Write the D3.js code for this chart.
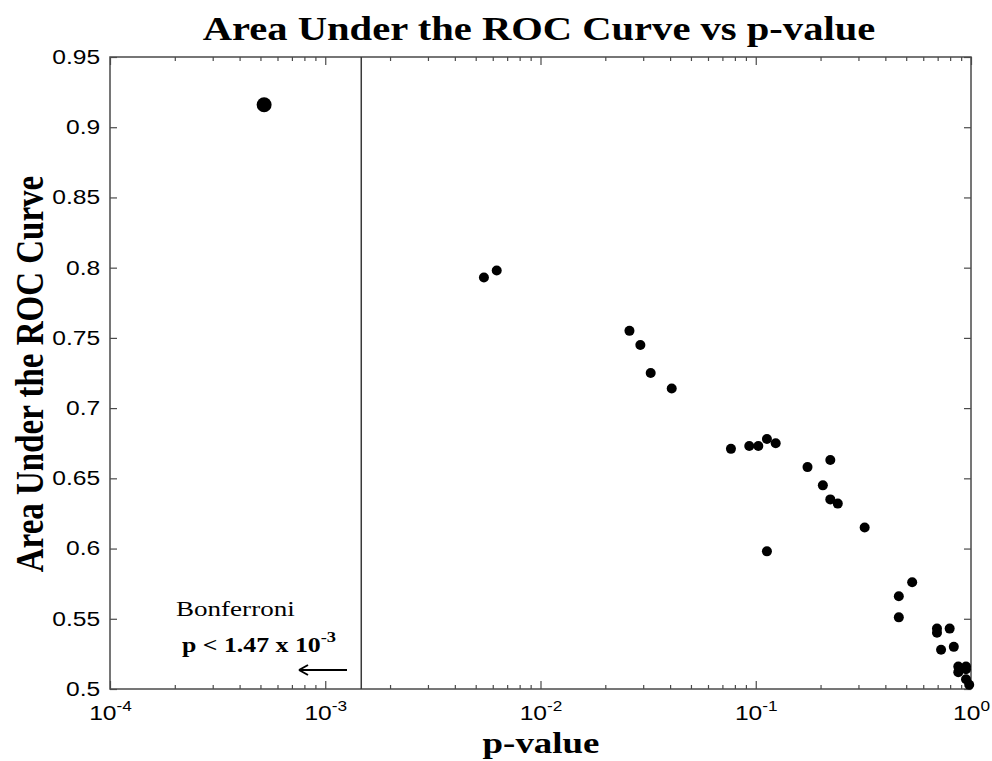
<!DOCTYPE html>
<html><head><meta charset="utf-8">
<script src="https://cdn.jsdelivr.net/npm/d3@7"></script>
<style>body{margin:0;background:#fff}</style>
</head><body><svg id="c" width="992" height="761"></svg>
<script>
// ---- data ----
const pValues = [0.00546,0.00626,0.0259,0.0291,0.0325,0.0407,0.0767,0.0933,0.1028,0.1127,0.1238,0.174,0.222,0.205,0.222,0.2405,0.3206,0.1127,0.462,0.462,0.533,0.695,0.695,0.796,0.726,0.832,0.873,0.948,0.873,0.948,0.948,0.981];
const aucValues = [0.793,0.798,0.755,0.745,0.725,0.714,0.671,0.673,0.673,0.678,0.675,0.658,0.663,0.645,0.635,0.632,0.615,0.598,0.566,0.551,0.576,0.543,0.540,0.543,0.528,0.530,0.516,0.516,0.512,0.514,0.507,0.503];
const sigP = [5.2e-4];
const sigAUC = [0.916];
const yTicks = [0.5,0.55,0.6,0.65,0.7,0.75,0.8,0.85,0.9,0.95];
const xTicks = [1e-4,1e-3,1e-2,1e-1,1];
const xTickExponents = ["-4","-3","-2","-1","0"];
const bonferroni = 1.47e-3;
const titleText = "Area Under the ROC Curve vs p-value";
const xLabelText = "p-value";
const yLabelText = "Area Under the ROC Curve";
const noteLine1 = "Bonferroni";
const noteLine2 = "p < 1.47 x 10";
const noteExp = "-3";

// ---- layout ----
const SX = 1.23;
const L = 110, R = 971, T = 57, B = 689;
const svg = d3.select("#c");
const x = d3.scaleLog().domain([1e-4, 1]).range([L, R]);
const y = d3.scaleLinear().domain([0.5, 0.95]).range([B, T]);
const axisColor = "#4a4a4a";

const minor = [];
for (let e = -4; e < 0; e++) for (let m = 2; m <= 9; m++) minor.push(m * Math.pow(10, e));

function styleAxis(g) {
  g.select(".domain").remove();
  g.selectAll(".tick line").attr("stroke", axisColor).attr("stroke-width", 1.2);
}

const gb = svg.append("g").attr("transform", `translate(0,${B})`)
  .call(d3.axisBottom(x).tickValues(xTicks).tickSize(-8).tickPadding(17).tickFormat(""))
  .call(styleAxis);
gb.selectAll(".tick text").each(function(d, i) {
  const t = d3.select(this);
  t.attr("font-family", "Liberation Sans, Arial, sans-serif").attr("font-size", 20).attr("fill", "#000")
   .attr("transform", `scale(${SX},1)`);
  t.text("10");
  t.append("tspan").attr("dy", -9).attr("font-size", 14).text(xTickExponents[i]);
});
svg.append("g").attr("transform", `translate(0,${B})`)
  .call(d3.axisBottom(x).tickValues(minor).tickSize(-4).tickFormat(""))
  .call(styleAxis);
svg.append("g").attr("transform", `translate(0,${T})`)
  .call(d3.axisTop(x).tickValues(xTicks).tickSize(-8).tickFormat(""))
  .call(styleAxis);
svg.append("g").attr("transform", `translate(0,${T})`)
  .call(d3.axisTop(x).tickValues(minor).tickSize(-4).tickFormat(""))
  .call(styleAxis);
const gl = svg.append("g").attr("transform", `translate(${L},0)`)
  .call(d3.axisLeft(y).tickValues(yTicks).tickSize(-7).tickPadding(8).tickFormat(d => String(+d.toFixed(2))))
  .call(styleAxis);
gl.selectAll(".tick text")
  .attr("font-family", "Liberation Sans, Arial, sans-serif").attr("font-size", 20).attr("fill", "#000")
  .attr("transform", `scale(${SX},1)`);
svg.append("g").attr("transform", `translate(${R},0)`)
  .call(d3.axisRight(y).tickValues(yTicks).tickSize(-7).tickFormat(""))
  .call(styleAxis);

svg.append("rect").attr("x", L).attr("y", T).attr("width", R - L).attr("height", B - T)
  .attr("fill", "none").attr("stroke", axisColor).attr("stroke-width", 1.5);

svg.append("line").attr("x1", x(bonferroni)).attr("x2", x(bonferroni)).attr("y1", T).attr("y2", B)
  .attr("stroke", "#3a3a3a").attr("stroke-width", 1.5);

svg.append("g").selectAll("circle").data(pValues.map((p, i) => [p, aucValues[i]])).join("circle")
  .attr("cx", d => x(d[0])).attr("cy", d => y(d[1])).attr("r", 5).attr("fill", "#000");
svg.append("g").selectAll("circle").data(sigP.map((p, i) => [p, sigAUC[i]])).join("circle")
  .attr("cx", d => x(d[0])).attr("cy", d => y(d[1])).attr("r", 7.5).attr("fill", "#000");

function stext(px, py, txt, size, weight, anchor) {
  return svg.append("text").attr("transform", `translate(${px},${py}) scale(${SX},1)`)
    .attr("font-family", "Liberation Serif, Times New Roman, serif").attr("font-size", size)
    .attr("font-weight", weight).attr("text-anchor", anchor).attr("fill", "#000").text(txt);
}
stext(539, 40, titleText, 33, "bold", "middle");
stext(541, 753, xLabelText, 30, "bold", "middle");
svg.append("text").attr("transform", `translate(43,374) rotate(-90) scale(1,${SX})`)
  .attr("font-family", "Liberation Serif, Times New Roman, serif").attr("font-size", 33)
  .attr("font-weight", "bold").attr("text-anchor", "middle").attr("fill", "#000").text(yLabelText);

stext(176, 616, noteLine1, 22, "normal", "start");
const n2 = stext(182, 652, noteLine2, 21, "bold", "start");
n2.append("tspan").attr("dy", -10).attr("font-size", 15).text(noteExp);

svg.append("path").attr("d", "M347,670 L299,670 M299,670 l9,-5 M299,670 l9,5")
  .attr("stroke", "#000").attr("stroke-width", 2).attr("fill", "none");
</script></body></html>
